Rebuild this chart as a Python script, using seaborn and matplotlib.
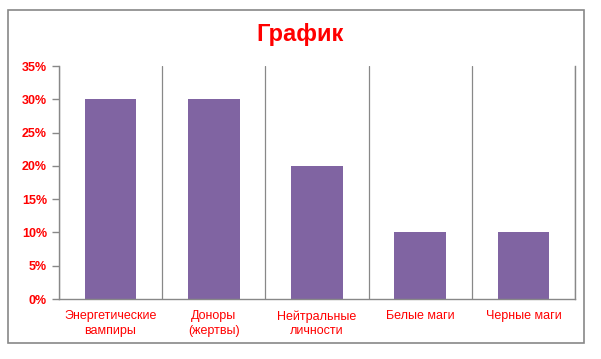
import numpy as np
import pandas as pd
import matplotlib
matplotlib.use('Agg')
import matplotlib.pyplot as plt
import seaborn as sns
from matplotlib.patches import Rectangle
from matplotlib.ticker import PercentFormatter, FixedLocator

categories = ['Энергетические\nвампиры', 'Доноры\n(жертвы)', 'Нейтральные\nличности', 'Белые маги', 'Черные маги']
values = [0.30, 0.30, 0.20, 0.10, 0.10]
y_ticks = [0, 0.05, 0.10, 0.15, 0.20, 0.25, 0.30, 0.35]

df = pd.DataFrame({'cat': categories, 'val': values})

sns.set_style('white')
plt.rcParams['font.family'] = ['Liberation Sans', 'DejaVu Sans']

fig = plt.figure(figsize=(6.01, 3.59), dpi=100)
ax = fig.add_axes([0.098, 0.167, 0.859, 0.649])

sns.barplot(data=df, x='cat', y='val', color='#8064A2', width=0.5, saturation=1,
            linewidth=0, ax=ax)

ax.set_ylim(0, 0.35)
ax.set_xlim(-0.5, len(categories) - 0.5)
ax.yaxis.set_major_locator(FixedLocator(y_ticks))
ax.yaxis.set_major_formatter(PercentFormatter(1.0, decimals=0))

# category boundaries carry the ticks and vertical gridlines
ax.set_xticks(np.arange(-0.5, len(categories), 1.0), minor=True)
ax.tick_params(axis='x', which='major', length=0, pad=8, labelsize=9, labelcolor='red')
ax.tick_params(axis='x', which='minor', length=5, color='#888888', width=1)
ax.tick_params(axis='y', length=5, color='#888888', width=1, labelsize=9, labelcolor='red', left=True)
for lab in ax.get_yticklabels():
    lab.set_fontweight('bold')
for lab in ax.get_xticklabels():
    lab.set_linespacing(1.3)
ax.grid(False)
ax.grid(True, axis='x', which='minor', color='#888888', linewidth=0.9)

ax.set_xlabel('')
ax.set_ylabel('')
ax.spines['top'].set_visible(False)
for s in ['left', 'bottom', 'right']:
    ax.spines[s].set_color('#888888')
    ax.spines[s].set_linewidth(1)

fig.text(0.5, 0.905, 'График', ha='center', va='center', color='red', fontsize=17, fontweight='bold')

fig.patches.append(Rectangle((8 / 601, 1 - 343 / 359), 576 / 601, 333 / 359,
                             transform=fig.transFigure, fill=False,
                             edgecolor='#888888', linewidth=1.2))

fig.savefig('out.png', dpi=100)
